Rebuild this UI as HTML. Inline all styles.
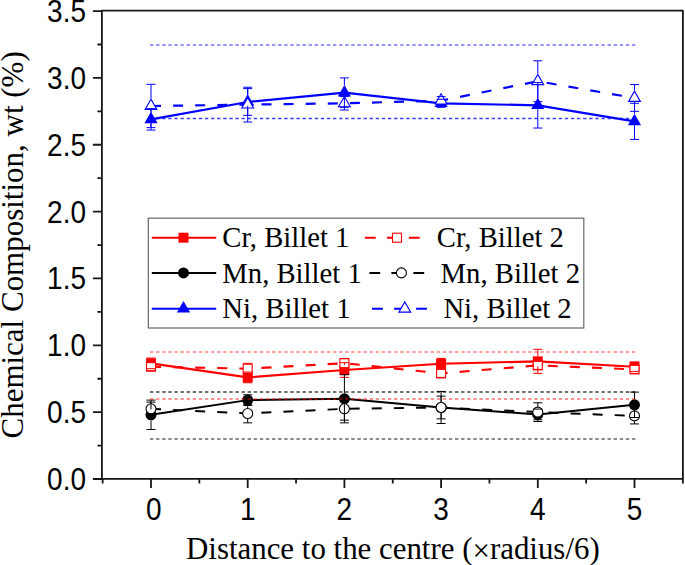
<!DOCTYPE html>
<html><head><meta charset="utf-8"><style>
html,body{margin:0;padding:0;background:#fff;}
svg{display:block;}
.s{font-family:"Liberation Sans",sans-serif;font-size:28px;fill:#000;}
.r{font-family:"Liberation Serif",serif;fill:#000;}
</style></head><body>
<svg width="685" height="565" viewBox="0 0 685 565">
<rect width="685" height="565" fill="#fff"/>
<g><polyline points="151.00,363.35 247.70,377.39 344.40,370.03 441.10,363.75 537.80,361.34 634.50,366.69" fill="none" stroke="#ff0000" stroke-width="2.1" stroke-linejoin="round"/><rect x="146.00" y="358.35" width="10" height="10" fill="#ff0000"/><rect x="242.70" y="372.39" width="10" height="10" fill="#ff0000"/><rect x="339.40" y="365.03" width="10" height="10" fill="#ff0000"/><rect x="436.10" y="358.75" width="10" height="10" fill="#ff0000"/><rect x="532.80" y="356.34" width="10" height="10" fill="#ff0000"/><rect x="629.50" y="361.69" width="10" height="10" fill="#ff0000"/><polyline points="151.00,366.69 247.70,368.70 344.40,363.22 441.10,373.38 537.80,365.36 634.50,369.37" fill="none" stroke="#ff0000" stroke-width="2.1" stroke-dasharray="10 12.1" stroke-linejoin="round"/><rect x="146.50" y="362.19" width="9" height="9" fill="#fff" stroke="#ff0000" stroke-width="1.1"/><rect x="243.20" y="364.20" width="9" height="9" fill="#fff" stroke="#ff0000" stroke-width="1.1"/><rect x="339.90" y="358.72" width="9" height="9" fill="#fff" stroke="#ff0000" stroke-width="1.1"/><rect x="436.60" y="368.88" width="9" height="9" fill="#fff" stroke="#ff0000" stroke-width="1.1"/><rect x="533.30" y="360.86" width="9" height="9" fill="#fff" stroke="#ff0000" stroke-width="1.1"/><rect x="630.00" y="364.87" width="9" height="9" fill="#fff" stroke="#ff0000" stroke-width="1.1"/><polyline points="151.00,414.82 247.70,400.12 344.40,398.78 441.10,407.47 537.80,414.42 634.50,404.80" fill="none" stroke="#000000" stroke-width="1.95" stroke-linejoin="round"/><circle cx="151.00" cy="414.82" r="5.5" fill="#000000"/><circle cx="247.70" cy="400.12" r="5.5" fill="#000000"/><circle cx="344.40" cy="398.78" r="5.5" fill="#000000"/><circle cx="441.10" cy="407.47" r="5.5" fill="#000000"/><circle cx="537.80" cy="414.42" r="5.5" fill="#000000"/><circle cx="634.50" cy="404.80" r="5.5" fill="#000000"/><polyline points="151.00,408.81 247.70,413.49 344.40,408.81 441.10,407.47 537.80,412.15 634.50,415.89" fill="none" stroke="#000000" stroke-width="1.95" stroke-dasharray="10 12.1" stroke-linejoin="round"/><circle cx="151.00" cy="408.81" r="5.0" fill="#fff" stroke="#000000" stroke-width="1.1"/><circle cx="247.70" cy="413.49" r="5.0" fill="#fff" stroke="#000000" stroke-width="1.1"/><circle cx="344.40" cy="408.81" r="5.0" fill="#fff" stroke="#000000" stroke-width="1.1"/><circle cx="441.10" cy="407.47" r="5.0" fill="#fff" stroke="#000000" stroke-width="1.1"/><circle cx="537.80" cy="412.15" r="5.0" fill="#fff" stroke="#000000" stroke-width="1.1"/><circle cx="634.50" cy="415.89" r="5.0" fill="#fff" stroke="#000000" stroke-width="1.1"/><polyline points="151.00,119.35 247.70,101.97 344.40,92.61 441.10,103.30 537.80,105.31 634.50,121.35" fill="none" stroke="#0000ff" stroke-width="2.2" stroke-linejoin="round"/><polygon points="151.00,111.73 144.40,123.16 157.60,123.16" fill="#0000ff"/><polygon points="247.70,94.35 241.10,105.78 254.30,105.78" fill="#0000ff"/><polygon points="344.40,84.99 337.80,96.42 351.00,96.42" fill="#0000ff"/><polygon points="441.10,95.68 434.50,107.11 447.70,107.11" fill="#0000ff"/><polygon points="537.80,97.69 531.20,109.12 544.40,109.12" fill="#0000ff"/><polygon points="634.50,113.73 627.90,125.16 641.10,125.16" fill="#0000ff"/><polyline points="151.00,105.98 247.70,104.64 344.40,103.30 441.10,100.63 537.80,81.24 634.50,97.96" fill="none" stroke="#0000ff" stroke-width="2.2" stroke-dasharray="10 12.1" stroke-linejoin="round"/><polygon points="151.00,99.16 145.10,109.38 156.90,109.38" fill="#fff" stroke="#0000ff" stroke-width="1.1" stroke-linejoin="miter"/><polygon points="247.70,97.83 241.80,108.05 253.60,108.05" fill="#fff" stroke="#0000ff" stroke-width="1.1" stroke-linejoin="miter"/><polygon points="344.40,96.49 338.50,106.71 350.30,106.71" fill="#fff" stroke="#0000ff" stroke-width="1.1" stroke-linejoin="miter"/><polygon points="441.10,93.82 435.20,104.04 447.00,104.04" fill="#fff" stroke="#0000ff" stroke-width="1.1" stroke-linejoin="miter"/><polygon points="537.80,74.43 531.90,84.65 543.70,84.65" fill="#fff" stroke="#0000ff" stroke-width="1.1" stroke-linejoin="miter"/><polygon points="634.50,91.14 628.60,101.36 640.40,101.36" fill="#fff" stroke="#0000ff" stroke-width="1.1" stroke-linejoin="miter"/><path d="M151.00 358.00V358.35M151.00 368.35V368.70M146.50 358.00h9.0M146.50 368.70h9.0" stroke="#ff0000" stroke-width="1.0" fill="none"/><path d="M247.70 372.04V372.39M247.70 382.39V382.74M243.20 372.04h9.0M243.20 382.74h9.0" stroke="#ff0000" stroke-width="1.0" fill="none"/><path d="M344.40 362.68V365.03M344.40 375.03V377.39M339.90 362.68h9.0M339.90 377.39h9.0" stroke="#ff0000" stroke-width="1.0" fill="none"/><path d="M441.10 358.40V358.75M441.10 368.75V369.10M436.60 358.40h9.0M436.60 369.10h9.0" stroke="#ff0000" stroke-width="1.0" fill="none"/><path d="M537.80 349.31V356.34M537.80 366.34V373.38M533.30 349.31h9.0M533.30 373.38h9.0" stroke="#ff0000" stroke-width="1.0" fill="none"/><path d="M630.00 362.01h9.0M630.00 371.37h9.0" stroke="#ff0000" stroke-width="1.0" fill="none"/><path d="M146.50 362.68h9.0M146.50 370.70h9.0" stroke="#ff0000" stroke-width="1.0" fill="none"/><path d="M247.70 363.35V363.70M247.70 373.70V374.05M243.20 363.35h9.0M243.20 374.05h9.0" stroke="#ff0000" stroke-width="1.0" fill="none"/><path d="M339.90 358.54h9.0M339.90 367.90h9.0" stroke="#ff0000" stroke-width="1.0" fill="none"/><path d="M436.60 369.37h9.0M436.60 377.39h9.0" stroke="#ff0000" stroke-width="1.0" fill="none"/><path d="M533.30 361.34h9.0M533.30 369.37h9.0" stroke="#ff0000" stroke-width="1.0" fill="none"/><path d="M630.00 365.36h9.0M630.00 373.38h9.0" stroke="#ff0000" stroke-width="1.0" fill="none"/><path d="M151.00 400.12V409.32M151.00 420.32V429.53M146.50 400.12h9.0M146.50 429.53h9.0" stroke="#000000" stroke-width="1.0" fill="none"/><path d="M243.20 394.77h9.0M243.20 405.47h9.0" stroke="#000000" stroke-width="1.0" fill="none"/><path d="M344.40 374.71V393.28M344.40 404.28V422.85M339.90 374.71h9.0M339.90 422.85h9.0" stroke="#000000" stroke-width="1.0" fill="none"/><path d="M441.10 391.43V401.97M441.10 412.97V423.51M436.60 391.43h9.0M436.60 423.51h9.0" stroke="#000000" stroke-width="1.0" fill="none"/><path d="M533.30 409.07h9.0M533.30 419.77h9.0" stroke="#000000" stroke-width="1.0" fill="none"/><path d="M634.50 392.10V399.30M634.50 410.30V417.50M630.00 392.10h9.0M630.00 417.50h9.0" stroke="#000000" stroke-width="1.0" fill="none"/><path d="M151.00 402.12V403.31M151.00 414.31V415.49M146.50 402.12h9.0M146.50 415.49h9.0" stroke="#000000" stroke-width="1.0" fill="none"/><path d="M247.70 404.13V407.99M247.70 418.99V422.85M243.20 404.13h9.0M243.20 422.85h9.0" stroke="#000000" stroke-width="1.0" fill="none"/><path d="M344.40 397.44V403.31M344.40 414.31V420.17M339.90 397.44h9.0M339.90 420.17h9.0" stroke="#000000" stroke-width="1.0" fill="none"/><path d="M441.10 396.11V401.97M441.10 412.97V418.83M436.60 396.11h9.0M436.60 418.83h9.0" stroke="#000000" stroke-width="1.0" fill="none"/><path d="M537.80 402.79V406.65M537.80 417.65V421.51M533.30 402.79h9.0M533.30 421.51h9.0" stroke="#000000" stroke-width="1.0" fill="none"/><path d="M634.50 407.87V410.39M634.50 421.39V423.92M630.00 407.87h9.0M630.00 423.92h9.0" stroke="#000000" stroke-width="1.0" fill="none"/><path d="M151.00 108.65V111.75M151.00 123.15V130.04M146.50 108.65h9.0M146.50 130.04h9.0" stroke="#0000ff" stroke-width="1.0" fill="none"/><path d="M247.70 88.60V94.37M247.70 105.77V115.34M243.20 88.60h9.0M243.20 115.34h9.0" stroke="#0000ff" stroke-width="1.0" fill="none"/><path d="M344.40 77.90V85.01M344.40 96.41V107.31M339.90 77.90h9.0M339.90 107.31h9.0" stroke="#0000ff" stroke-width="1.0" fill="none"/><path d="M441.10 107.10V107.31M436.60 99.29h9.0M436.60 107.31h9.0" stroke="#0000ff" stroke-width="1.0" fill="none"/><path d="M537.80 82.58V97.71M537.80 109.11V128.04M533.30 82.58h9.0M533.30 128.04h9.0" stroke="#0000ff" stroke-width="1.0" fill="none"/><path d="M634.50 103.30V113.75M634.50 125.15V139.40M630.00 103.30h9.0M630.00 139.40h9.0" stroke="#0000ff" stroke-width="1.0" fill="none"/><path d="M151.00 84.32V98.38M151.00 109.78V127.64M146.50 84.32h9.0M146.50 127.64h9.0" stroke="#0000ff" stroke-width="1.0" fill="none"/><path d="M247.70 87.26V97.04M247.70 108.44V122.02M243.20 87.26h9.0M243.20 122.02h9.0" stroke="#0000ff" stroke-width="1.0" fill="none"/><path d="M344.40 107.10V109.99M339.90 96.62h9.0M339.90 109.99h9.0" stroke="#0000ff" stroke-width="1.0" fill="none"/><path d="M441.10 104.43V104.64M436.60 96.62h9.0M436.60 104.64h9.0" stroke="#0000ff" stroke-width="1.0" fill="none"/><path d="M537.80 60.79V73.64M537.80 85.04V101.70M533.30 60.79h9.0M533.30 101.70h9.0" stroke="#0000ff" stroke-width="1.0" fill="none"/><path d="M634.50 84.59V90.36M634.50 101.76V111.33M630.00 84.59h9.0M630.00 111.33h9.0" stroke="#0000ff" stroke-width="1.0" fill="none"/><line x1="150" y1="45.0" x2="635.4" y2="45.0" stroke="#0000ff" stroke-opacity="0.55" stroke-width="1.5" stroke-dasharray="3.4 2.7"/><line x1="150" y1="118.5" x2="635.4" y2="118.5" stroke="#0000ff" stroke-opacity="0.75" stroke-width="1.5" stroke-dasharray="3.4 2.7"/><line x1="150" y1="351.9" x2="635.4" y2="351.9" stroke="#ff0000" stroke-opacity="0.5" stroke-width="1.5" stroke-dasharray="3.4 2.7"/><line x1="150" y1="398.9" x2="635.4" y2="398.9" stroke="#ff0000" stroke-opacity="0.55" stroke-width="1.5" stroke-dasharray="3.4 2.7"/><line x1="150" y1="392.0" x2="635.4" y2="392.0" stroke="#000" stroke-opacity="0.75" stroke-width="1.5" stroke-dasharray="3.4 2.7"/><line x1="150" y1="439.0" x2="635.4" y2="439.0" stroke="#000" stroke-opacity="0.6" stroke-width="1.5" stroke-dasharray="3.4 2.7"/></g>
<g><path d="M101.9 10.7H682.9V478.9H101.9Z" fill="none" stroke="#161616" stroke-width="1.8" stroke-linejoin="round"/><path d="M92.9 479.00H101.9M92.9 412.15H101.9M92.9 345.30H101.9M92.9 278.45H101.9M92.9 211.60H101.9M92.9 144.75H101.9M92.9 77.90H101.9M92.9 11.05H101.9M97.4 445.57H101.9M97.4 378.73H101.9M97.4 311.88H101.9M97.4 245.03H101.9M97.4 178.18H101.9M97.4 111.33H101.9M97.4 44.48H101.9M151.00 478.9V487.9M247.70 478.9V487.9M344.40 478.9V487.9M441.10 478.9V487.9M537.80 478.9V487.9M634.50 478.9V487.9M102.65 478.9V483.4M199.35 478.9V483.4M296.05 478.9V483.4M392.75 478.9V483.4M489.45 478.9V483.4M586.15 478.9V483.4M682.85 478.9V483.4" stroke="#161616" stroke-width="1.8" fill="none"/></g>
<g class="s"><text transform="translate(86 479.00) scale(1 1.1)" y="9.95" text-anchor="end">0.0</text><text transform="translate(86 412.15) scale(1 1.1)" y="9.95" text-anchor="end">0.5</text><text transform="translate(86 345.30) scale(1 1.1)" y="9.95" text-anchor="end">1.0</text><text transform="translate(86 278.45) scale(1 1.1)" y="9.95" text-anchor="end">1.5</text><text transform="translate(86 211.60) scale(1 1.1)" y="9.95" text-anchor="end">2.0</text><text transform="translate(86 144.75) scale(1 1.1)" y="9.95" text-anchor="end">2.5</text><text transform="translate(86 77.90) scale(1 1.1)" y="9.95" text-anchor="end">3.0</text><text transform="translate(86 11.05) scale(1 1.1)" y="9.95" text-anchor="end">3.5</text><text transform="translate(153.80 508.8) scale(1 1.1)" y="9.95" text-anchor="middle">0</text><text transform="translate(247.70 508.8) scale(1 1.1)" y="9.95" text-anchor="middle">1</text><text transform="translate(344.40 508.8) scale(1 1.1)" y="9.95" text-anchor="middle">2</text><text transform="translate(441.10 508.8) scale(1 1.1)" y="9.95" text-anchor="middle">3</text><text transform="translate(537.80 508.8) scale(1 1.1)" y="9.95" text-anchor="middle">4</text><text transform="translate(634.50 508.8) scale(1 1.1)" y="9.95" text-anchor="middle">5</text></g>
<g class="r" font-size="28.7"><rect x="148.3" y="218.2" width="435.5" height="109.8" fill="#fff" stroke="#666" stroke-width="1.2"/><line x1="151.8" y1="237.7" x2="216.2" y2="237.7" stroke="#ff0000" stroke-width="2"/><rect x="178.50" y="232.70" width="10" height="10" fill="#ff0000"/><text transform="translate(222.3 247.2) scale(1 1.035)">Cr, Billet 1</text><line x1="364.9" y1="237.7" x2="420.4" y2="237.7" stroke="#ff0000" stroke-width="2" stroke-dasharray="10.8 11.2"/><rect x="392.50" y="233.20" width="9" height="9" fill="#fff" stroke="#ff0000" stroke-width="1.1"/><text transform="translate(436.8 247.2) scale(1 1.035)">Cr, Billet 2</text><line x1="151.8" y1="272.9" x2="216.2" y2="272.9" stroke="#000000" stroke-width="2"/><circle cx="183.50" cy="272.90" r="5.5" fill="#000000"/><text transform="translate(222.3 282.6) scale(1 1.035)">Mn, Billet 1</text><line x1="369.4" y1="272.9" x2="424.9" y2="272.9" stroke="#000000" stroke-width="2" stroke-dasharray="10.8 11.2"/><circle cx="401.40" cy="272.90" r="5.0" fill="#fff" stroke="#000000" stroke-width="1.1"/><text transform="translate(440.6 282.6) scale(1 1.035)">Mn, Billet 2</text><line x1="151.8" y1="308.7" x2="216.2" y2="308.7" stroke="#0000ff" stroke-width="2"/><polygon points="183.50,301.08 176.90,312.51 190.10,312.51" fill="#0000ff"/><text transform="translate(222.3 318.2) scale(1 1.035)">Ni, Billet 1</text><line x1="372.1" y1="308.7" x2="427.6" y2="308.7" stroke="#0000ff" stroke-width="2" stroke-dasharray="10.8 11.2"/><polygon points="404.80,301.89 398.90,312.11 410.70,312.11" fill="#fff" stroke="#0000ff" stroke-width="1.1" stroke-linejoin="miter"/><text transform="translate(443.4 318.2) scale(1 1.035)">Ni, Billet 2</text></g>
<text class="r" font-size="30.9" x="186" y="558.6">Distance to the centre (<tspan dy="2.4">×</tspan><tspan dy="-2.4">radius/6)</tspan></text>
<text class="r" font-size="31" transform="translate(23.2 438.5) rotate(-90) scale(1 1.05)" x="0" y="0">Chemical Composition, wt (%)</text>
</svg>
</body></html>
